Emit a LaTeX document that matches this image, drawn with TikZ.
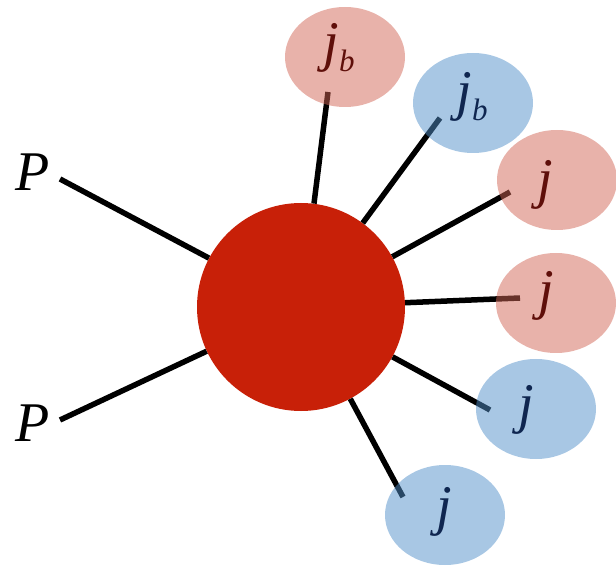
\documentclass[tikz,border=0pt]{standalone}
\usepackage{fontspec}
\setmainfont{Liberation Serif}
\usetikzlibrary{shapes.geometric}
\definecolor{hubred}{RGB}{200,32,8}
\definecolor{pinkfill}{RGB}{209,101,85}
\definecolor{bluefill}{RGB}{81,143,201}
\definecolor{pinktext}{RGB}{95,15,10}
\definecolor{bluetext}{RGB}{15,38,80}
\tikzset{
  leg/.style={line width=5.5pt, black},
  blob/.style={ellipse, minimum width=120pt, minimum height=100pt, inner sep=0pt, fill opacity=0.5},
  pinkblob/.style={blob, fill=pinkfill},
  blueblob/.style={blob, fill=bluefill},
  hubstyle/.style={circle, fill=hubred, minimum size=208pt, inner sep=0pt},
  lbl/.style={font=\fontsize{56}{60}\selectfont\itshape, inner sep=0pt},
}
\newcommand{\jb}{j\raisebox{-0.2em}{\fontsize{31}{31}\selectfont b}}
\begin{document}
\begin{tikzpicture}[x=1pt,y=-1pt]
\useasboundingbox (0,0) rectangle (616,569);
% hub
\node[hubstyle] (hub) at (301,307) {};
% free ends
\coordinate (pa) at (60,179);
\coordinate (pb) at (60,420);
\coordinate (t1) at (328,92);
\coordinate (t2) at (440,118);
\coordinate (t3) at (510,192);
\coordinate (t4) at (520,298);
\coordinate (t5) at (490,410);
\coordinate (t6) at (403,497);
% legs
\draw[leg] (pa) -- (hub);
\draw[leg] (pb) -- (hub);
\draw[leg] (hub) -- (t1);
\draw[leg] (hub) -- (t2);
\draw[leg] (hub) -- (t3);
\draw[leg] (hub) -- (t4);
\draw[leg] (hub) -- (t5);
\draw[leg] (hub) -- (t6);
% blobs
\node[pinkblob] (e1) at (345,57) {};
\node[blueblob] (e2) at (473,103) {};
\node[pinkblob] (e3) at (557,180) {};
\node[pinkblob] (e4) at (556,303) {};
\node[blueblob] (e5) at (536,409) {};
\node[blueblob] (e6) at (445,515) {};
% labels
\node[lbl, text=pinktext] (l1) at (339,48) {\jb};
\node[lbl, text=bluetext] (l2) at (472,97) {\jb};
\node[lbl, text=pinktext] (l3) at (545,185) {j};
\node[lbl, text=pinktext] (l4) at (546,296) {j};
\node[lbl, text=bluetext] (l5) at (526,410) {j};
\node[lbl, text=bluetext] (l6) at (444,512) {j};
\node[lbl] (pA) at (33,172) {P};
\node[lbl] (pB) at (33,423) {P};
\end{tikzpicture}
\end{document}
